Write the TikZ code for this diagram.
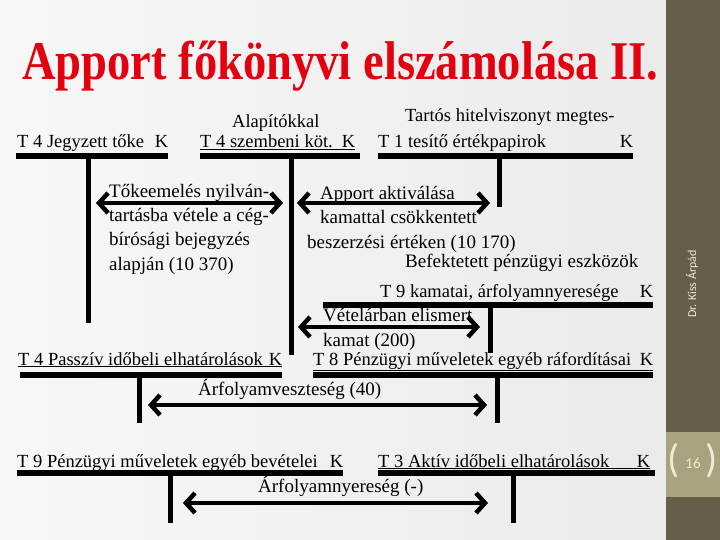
\documentclass[tikz,border=0pt]{standalone}
\usepackage{fontspec}
\setmainfont{Liberation Serif}
\newfontfamily\oldalfont{Carlito}
\usetikzlibrary{arrows.meta}
\definecolor{savszin}{HTML}{655E4A}
\definecolor{dobozszin}{HTML}{A8A27E}
\definecolor{cimpiros}{HTML}{E3000F}
\definecolor{halvany}{HTML}{EEEAD6}
\tikzset{
  szoveg/.style={anchor=base west, inner sep=0pt, font=\fontsize{19}{24.3}\selectfont, align=left},
  fej/.style={anchor=base west, inner sep=0pt, font=\fontsize{18.5}{22}\selectfont},
  sin/.style={line width=6pt},
  lab/.style={line width=5pt},
  nyil/.style={line width=4.5pt, {Straight Barb[length=9pt,width=20pt]}-{Straight Barb[length=9pt,width=20pt]}}
}
\newcommand{\fejlec}[3]{\underline{\makebox[#1][l]{#2\hfill #3}}}

\begin{document}
\begin{tikzpicture}[x=1pt, y=-1pt]
    \useasboundingbox (0,0) rectangle (720,540);
    \shade[left color=black!3, middle color=white, right color=black!8] (0,0) rectangle (666,540);
    \fill[savszin] (666,0) rectangle (720,540);
    \fill[dobozszin] (666,432) rectangle (720,497);

    \node (cim) [anchor=base west, inner sep=0pt, text=cimpiros, font=\fontsize{52}{52}\bfseries\selectfont] at (22,80)
    {\scalebox{0.895}[1.05]{Apport főkönyvi elszámolása II.}};
    \node (szerzo) [rotate=90, text=halvany, font=\oldalfont\fontsize{12}{12}\selectfont] at (692,284) {Dr. Kiss Árpád};
    \node (oldal) [text=halvany, font=\oldalfont\fontsize{15}{15}\selectfont] at (693,463) {16};
    \node (balzar) [text=halvany, font=\oldalfont\fontsize{40}{40}\selectfont] at (674,461) {(};
    \node (jobbzar) [text=halvany, font=\oldalfont\fontsize{40}{40}\selectfont] at (712,461) {)};

    % Számlák
    \node (alapito) [fej] at (232,128) {Alapítókkal};
    \node (tartos) [fej] at (405,122) {Tartós hitelviszonyt megtes-};
    \node (jegyzett) [fej] at (17,148) {\fejlec{151pt}{T 4 Jegyzett tőke}{K}};
    \node (szembeni) [fej] at (200,148) {\fejlec{155pt}{T 4 szembeni köt.}{K}};
    \node (tesito) [fej] at (378,148) {\fejlec{255pt}{T 1 tesítő értékpapirok}{K}};
    \node (befekt) [fej, font=\fontsize{19}{22}\selectfont] at (405,267) {Befektetett pénzügyi eszközök};
    \node (kamatai) [fej] at (380,297) {\fejlec{273pt}{T 9 kamatai, árfolyamnyeresége}{K}};
    \node (passziv) [fej] at (18,365) {\fejlec{264pt}{T 4 Passzív időbeli elhatárolások}{K}};
    \node (raford) [fej] at (313,365) {\fejlec{340pt}{T 8 Pénzügyi műveletek egyéb ráfordításai}{K}};
    \node (bevetel) [fej] at (17,467) {\fejlec{326pt}{T 9 Pénzügyi műveletek egyéb bevételei}{K}};
    \node (aktiv) [fej] at (378,467) {\fejlec{272pt}{T 3 Aktív időbeli elhatárolások}{K}};

    \draw [sin] (16,156) -- (168,156);
    \draw [sin] (200,156) -- (360,156);
    \draw [sin] (378,156) -- (633,156);
    \draw [sin] (323,305) -- (653,305);
    \draw [sin] (20,375) -- (282,375);
    \draw [sin] (313,375) -- (653,375);
    \draw [sin] (17,473) -- (343,473);
    \draw [sin] (378,473) -- (655,473);

    \draw [lab] (88,156) -- (88,323);
    \draw [lab] (291,156) -- (291,355);
    \draw [lab] (499,156) -- (499,207);
    \draw [lab] (490,305) -- (490,353);
    \draw [lab] (139,375) -- (139,423);
    \draw [lab] (497,375) -- (497,423);
    \draw [lab] (170,473) -- (170,523);
    \draw [lab] (513,473) -- (513,523);

    % Tételek (utolsó sor alapvonalához igazítva)
    \node (tokeem) [szoveg] at (109,270)
    {Tőkeemelés nyilván-\\tartásba vétele a cég-\\bírósági bejegyzés\\alapján (10 370)};
    \node (apport) [szoveg] at (320,248)
    {Apport aktiválása\\kamattal csökkentett\\\hspace*{-13pt}beszerzési értéken (10 170)};
    \node (vetelar) [szoveg] at (323,346) {Vételárban elismert\\kamat (200)};
    \node (arfveszt) [fej, font=\fontsize{19}{22}\selectfont] at (198,395) {Árfolyamveszteség (40)};
    \node (arfnyer) [fej, font=\fontsize{19}{22}\selectfont] at (258,492) {Árfolyamnyereség (-)};

    % Nyilak
    \coordinate (n1a) at (96,203);   \coordinate (n1b) at (283,203);
    \coordinate (n2a) at (297,203);  \coordinate (n2b) at (490,203);
    \coordinate (n3a) at (298,327);  \coordinate (n3b) at (480,327);
    \coordinate (n4a) at (148,405);  \coordinate (n4b) at (487,405);
    \coordinate (n5a) at (183,503);  \coordinate (n5b) at (488,503);
    \draw [nyil] (n1a) -- (n1b);
    \draw [nyil] (n2a) -- (n2b);
    \draw [nyil] (n3a) -- (n3b);
    \draw [nyil] (n4a) -- (n4b);
    \draw [nyil] (n5a) -- (n5b);

\end{tikzpicture}
\end{document}
